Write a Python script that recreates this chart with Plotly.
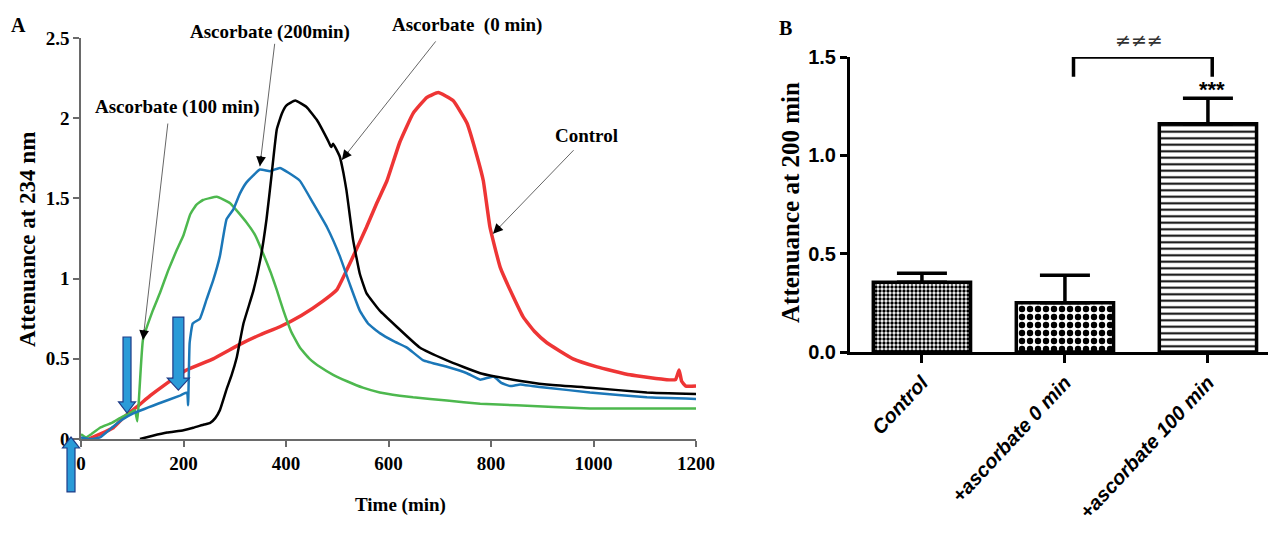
import plotly.graph_objects as go

# page body has an 8 px margin: figure is sized to fit the window and positions are shifted by it
OFF = 8
W, H = 1276 - OFF, 535 - OFF

# ---------------- Panel A data (time in min, attenuance at 234 nm) ----------------
green_t = [0, 10, 20, 37, 60, 76, 100, 105, 110, 114, 121, 140, 154, 170, 187, 200, 213, 225, 238, 265,
           291, 323, 340, 355, 370, 382, 395, 410, 427, 446, 466, 492, 519, 550, 583, 622, 648, 714, 779,
           850, 993, 1100, 1200]
green_v = [0.03, 0.01, 0.03, 0.07, 0.10, 0.13, 0.17, 0.18, 0.11, 0.30, 0.62, 0.80, 0.91, 1.05, 1.18, 1.27,
           1.40, 1.46, 1.49, 1.51, 1.47, 1.35, 1.27, 1.16, 1.04, 0.93, 0.80, 0.67, 0.57, 0.50, 0.45, 0.40,
           0.36, 0.32, 0.29, 0.27, 0.26, 0.24, 0.22, 0.21, 0.19, 0.19, 0.19]

blue_t = [0, 20, 37, 60, 80, 102, 150, 193, 207, 209, 212, 218, 232, 245, 258, 271, 284, 297, 310, 323,
          349, 369, 388, 405, 427, 453, 480, 505, 525, 544, 560, 583, 610, 636, 668, 714, 753, 779, 805,
          820, 837, 857, 880, 909, 993, 1104, 1200]
blue_v = [0.01, 0.0, 0.01, 0.07, 0.12, 0.16, 0.22, 0.27, 0.29, 0.21, 0.60, 0.72, 0.75, 0.87, 0.99, 1.14,
          1.37, 1.43, 1.53, 1.60, 1.68, 1.67, 1.69, 1.66, 1.61, 1.47, 1.32, 1.14, 0.96, 0.80, 0.72, 0.66,
          0.61, 0.57, 0.49, 0.45, 0.41, 0.37, 0.39, 0.35, 0.33, 0.34, 0.33, 0.32, 0.29, 0.26, 0.25]

black_t = [115, 140, 168, 200, 219, 240, 252, 262, 271, 284, 294, 304, 317, 336, 350, 362, 372, 382, 392,
           401, 418, 440, 460, 482, 488, 492, 505, 512, 518, 531, 544, 557, 583, 616, 661, 714, 779, 843,
           909, 993, 1104, 1200]
black_v = [0.0, 0.02, 0.04, 0.055, 0.07, 0.09, 0.10, 0.13, 0.18, 0.31, 0.40, 0.51, 0.72, 0.92, 1.12, 1.37,
           1.65, 1.93, 2.03, 2.08, 2.11, 2.07, 1.99, 1.86, 1.82, 1.84, 1.76, 1.66, 1.55, 1.24, 1.03, 0.91,
           0.80, 0.70, 0.57, 0.49, 0.41, 0.37, 0.34, 0.32, 0.29, 0.28]

red_t = [15, 37, 63, 85, 109, 135, 160, 206, 258, 310, 350, 388, 430, 472, 499, 518, 537, 557, 577, 597,
         622, 648, 675, 697, 726, 753, 773, 785, 798, 818, 843, 863, 885, 909, 960, 1007, 1071, 1143, 1160,
         1167, 1172, 1180, 1200]
red_v = [0.0, 0.03, 0.07, 0.14, 0.20, 0.27, 0.33, 0.43, 0.50, 0.59, 0.65, 0.70, 0.77, 0.86, 0.93, 1.05,
         1.18, 1.32, 1.47, 1.61, 1.85, 2.03, 2.13, 2.16, 2.11, 1.97, 1.76, 1.61, 1.32, 1.07, 0.89, 0.76,
         0.67, 0.60, 0.50, 0.45, 0.40, 0.37, 0.37, 0.43, 0.36, 0.33, 0.33]

x_ticks_a = [0, 200, 400, 600, 800, 1000, 1200]
y_ticks_a = [0, 0.5, 1, 1.5, 2, 2.5]

# ---------------- Panel B data ----------------
b_categories = ["Control", "+ascorbate 0 min", "+ascorbate 100 min"]
b_values = [0.355, 0.25, 1.16]
b_errors = [0.045, 0.14, 0.13]
y_ticks_b = [0.0, 0.5, 1.0, 1.5]

SERIF = "Liberation Serif"
SANS = "Liberation Sans"

fig = go.Figure()

def curve(t, v, color, width):
    return go.Scatter(x=t, y=v, mode="lines", line=dict(color=color, width=width, shape="spline",
                                                        smoothing=0.35),
                      xaxis="x", yaxis="y", showlegend=False)

fig.add_trace(curve(red_t, red_v, "#EE3535", 3.5))
fig.add_trace(curve(green_t, green_v, "#4DB84E", 2.5))
fig.add_trace(curve(blue_t, blue_v, "#1B77B8", 2.5))
fig.add_trace(curve(black_t, black_v, "black", 2.5))

# Panel B bars
fig.add_trace(go.Bar(
    x=[0, 1, 2], y=b_values, width=0.68, xaxis="x2", yaxis="y2", showlegend=False,
    marker=dict(color="white", line=dict(color="black", width=3.5),
                pattern=dict(shape=[".", ".", "-"], size=[4, 8, 6.5], solidity=[0.55, 0.5, 0.3],
                             fgcolor="black", fillmode="replace")),
    error_y=dict(type="data", symmetric=False, array=b_errors, arrayminus=[0, 0, 0],
                 color="black", thickness=3.5, width=25),
))

# significance bracket
bracket_x = [1.06, 1.06, 2.03, 2.03]
bracket_y = [1.40, 1.50, 1.50, 1.40]
fig.add_trace(go.Scatter(x=bracket_x, y=bracket_y, mode="lines", line=dict(color="black", width=3.5),
                         xaxis="x2", yaxis="y2", cliponaxis=False, showlegend=False))

# axis geometry in window pixels (converted to figure pixels by OFF)
ax_l, ax_r, ax_top, ax_bot = 81 - OFF, 696 - OFF, 38 - OFF, 439 - OFF
bx_l, bx_r, bx_top, bx_bot = 850 - OFF, 1272 - OFF, 57 - OFF, 352 - OFF

fig.update_layout(
    width=W, height=H, margin=dict(l=0, r=0, t=0, b=0, autoexpand=False),
    plot_bgcolor="white", paper_bgcolor="white",
    xaxis=dict(domain=[ax_l / W, ax_r / W], range=[0, 1200], tickvals=x_ticks_a, anchor="y",
               automargin=False,
               showline=True, linecolor="#6a6a6a", linewidth=1.5, ticks="outside", ticklen=6,
               tickcolor="#6a6a6a", tickwidth=1.5, showgrid=False, zeroline=False,
               tickfont=dict(family=SERIF, size=19, color="black", weight="bold")),
    yaxis=dict(domain=[(H - ax_bot) / H, (H - ax_top) / H], range=[0, 2.5], tickvals=y_ticks_a,
               anchor="x", automargin=False, showline=True, linecolor="#6a6a6a", linewidth=1.5,
               ticks="outside", ticklen=6, tickcolor="#6a6a6a", tickwidth=1.5, showgrid=False,
               zeroline=False, tickfont=dict(family=SERIF, size=19, color="black", weight="bold")),
    xaxis2=dict(domain=[bx_l / W, bx_r / W], range=[-0.503, 2.448], tickvals=[0, 1, 2],
                ticktext=b_categories, tickangle=-47, anchor="y2", automargin=False,
                showline=True, linecolor="black", linewidth=3, ticks="outside", ticklen=8,
                tickcolor="black", tickwidth=3, showgrid=False, zeroline=False,
                tickfont=dict(family=SANS, size=20, color="black", weight="bold", style="italic")),
    yaxis2=dict(domain=[(H - bx_bot) / H, (H - bx_top) / H], range=[0, 1.5], tickvals=y_ticks_b,
                tickformat=".1f", anchor="x2", automargin=False, showline=True, linecolor="black",
                linewidth=3, ticks="outside", ticklen=7, tickcolor="black", tickwidth=3,
                showgrid=False, zeroline=False,
                tickfont=dict(family=SANS, size=20, color="black", weight="bold")),
)

# helpers: data units of panel A / B -> paper fractions (for items that sit outside the plot area)
def pxA(t):
    return (ax_l + (ax_r - ax_l) * t / 1200.0) / W

def pyA(v):
    return (H - ax_bot + (ax_bot - ax_top) * v / 2.5) / H

def pxB(c):
    return (bx_l + (bx_r - bx_l) * (c + 0.503) / 2.951) / W

def pyB(v):
    return (H - bx_bot + (bx_bot - bx_top) * v / 1.5) / H

def ppx(x):  # window pixel -> paper fraction
    return (x - OFF) / W

def ppy(y):
    return (H - (y - OFF)) / H

ann = []
tf = dict(family=SERIF, size=19, color="black", weight="bold")

def text(t, x, y, font, angle=0):
    ann.append(dict(text=t, x=x, y=y, xref="paper", yref="paper", showarrow=False, font=font,
                    xanchor="center", yanchor="middle", textangle=angle))

# panel letters
text("A", ppx(18), ppy(25), dict(family=SERIF, size=20, color="black", weight="bold"))
text("B", ppx(785), ppy(28), dict(family=SERIF, size=20, color="black", weight="bold"))
# axis titles
text("Time (min)", ppx(400), ppy(505), tf)
text("Attenuance at 234 nm", ppx(28), ppy(240), dict(family=SERIF, size=23, color="black",
                                                    weight="bold"), -90)
text("Attenuance at 200 min", ppx(790), ppy(203), dict(family=SERIF, size=25, color="black",
                                                      weight="bold"), -90)
# curve labels
labels = [("Ascorbate (100 min)", 189, 2.07), ("Ascorbate (200min)", 369, 2.54),
          ("Ascorbate&nbsp; (0 min)", 753, 2.58), ("Control", 987, 1.895)]
for txt, lx, ly in labels:
    text(txt, pxA(lx), pyA(ly), tf)
# pointer arrows (tip in data units, tail offset in px): grey thin line + black head
pointers = [(121, 0.617, 25, -218), (349, 1.70, 15, -124), (509, 1.74, 95, -120), (804, 1.28, 82, -85)]
for px_, py_, oax, oay in pointers:
    ann.append(dict(text="", x=px_, y=py_, xref="x", yref="y", ax=oax, ay=oay, showarrow=True,
                    arrowhead=0, arrowwidth=1, arrowcolor="#666666", standoff=0))
    L = (oax ** 2 + oay ** 2) ** 0.5
    ann.append(dict(text="", x=px_, y=py_, xref="x", yref="y", ax=oax / L * 12, ay=oay / L * 12,
                    showarrow=True, arrowhead=2, arrowsize=1.5, arrowwidth=1.3, arrowcolor="black",
                    standoff=0))
# Panel B significance text
text("***", pxB(2.03), pyB(1.335), dict(family=SANS, size=22, color="black", weight="bold"))
text("≠≠≠", pxB(1.52), pyB(1.585), dict(family="DejaVu Sans", size=19, color="#333333"))
fig.update_layout(annotations=ann)

# blue block arrows marking ascorbate additions (data units -> axis-domain fractions)
def fx(t):
    return t / 1200.0

def fy(v):
    return v / 2.5

# (centre time, tail value, head-start value, tip value, body half-width, head half-width)
block_arrows = [(-19.5, -0.33, -0.056, 0.012, 7.8, 16.6),
                (89.8, 0.636, 0.231, 0.162, 7.8, 16.6),
                (190.0, 0.76, 0.38, 0.305, 10.7, 21.5)]
shapes = []
for c, tail, hs, tip, bw, hw in block_arrows:
    pts = [(c - bw, tail), (c + bw, tail), (c + bw, hs), (c + hw, hs), (c, tip), (c - hw, hs), (c - bw, hs)]
    path = "M " + " L ".join(f"{fx(a):.5f},{fy(b):.5f}" for a, b in pts) + " Z"
    shapes.append(dict(type="path", path=path, xref="x domain", yref="y domain",
                       fillcolor="#2A9BD8", line=dict(color="#1F3C88", width=1.2)))
fig.update_layout(shapes=shapes)

fig.write_html("out.html")
